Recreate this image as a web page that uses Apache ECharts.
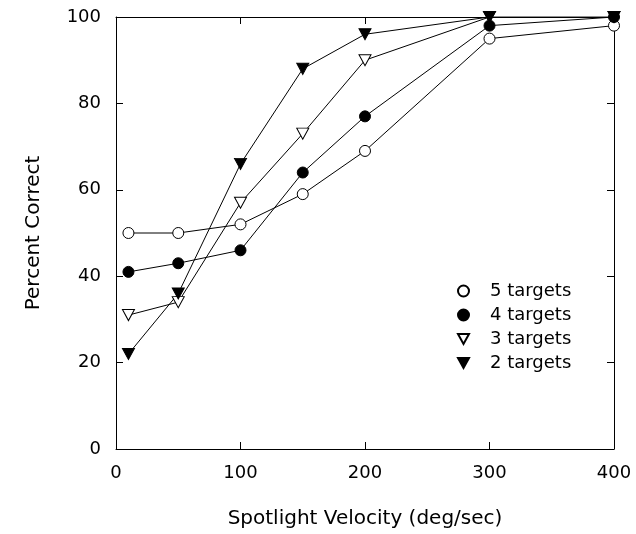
<!DOCTYPE html>
<html>
<head>
<meta charset="utf-8">
<script src="https://cdn.jsdelivr.net/npm/echarts@6/dist/echarts.min.js"></script>
<style>
  html, body { margin: 0; padding: 0; background: #fff; }
  #chart { width: 636px; height: 534px; }
</style>
</head>
<body>
<div id="chart"></div>
<script>
// spotlight velocity (deg/sec)
var velocity = [10, 50, 100, 150, 200, 300, 400];
// percent correct per number of targets
var targets5 = [50, 50, 52, 59, 69, 95, 98];
var targets4 = [41, 43, 46, 64, 77, 98, 100];
var targets3 = [31, 34, 57, 73, 90, 100, 100];
var targets2 = [22, 36, 66, 88, 96, 100, 100];
var seriesNames = ['5 targets', '4 targets', '3 targets', '2 targets'];

var FONT = 'DejaVu Sans';
var downTri = 'path://M0,0 L10,0 L5,9 Z';

function pairs(ys) {
    return velocity.map(function (x, i) { return [x, ys[i]]; });
}

function makeSeries(name, ys, symbol, size, filled) {
    return {
        name: name,
        type: 'line',
        data: pairs(ys),
        symbol: symbol,
        symbolSize: size,
        showAllSymbol: true,
        lineStyle: { color: '#000', width: 1 },
        itemStyle: {
            color: filled ? '#000' : '#fff',
            borderColor: '#000',
            borderWidth: 1
        },
        emphasis: { disabled: true },
        animation: false
    };
}

var chart = echarts.init(document.getElementById('chart'));

var axisBase = {
    axisLine: { show: true, onZero: false, lineStyle: { color: '#000', width: 1 } },
    axisTick: { show: true, inside: true, length: 7, lineStyle: { color: '#000' } },
    splitLine: { show: false }
};

var option = {
    backgroundColor: '#fff',
    grid: { left: 116, right: 22, top: 17, bottom: 84 },
    legend: {
        orient: 'vertical',
        left: 452,
        top: 277,
        itemWidth: 11,
        itemHeight: 11,
        itemGap: 6,
        textStyle: { fontFamily: FONT, fontSize: 18, color: '#000', padding: [0, 0, 0, 16] },
        data: [
            { name: seriesNames[0], icon: 'circle' },
            { name: seriesNames[1], icon: 'circle' },
            { name: seriesNames[2], icon: downTri },
            { name: seriesNames[3], icon: downTri }
        ]
    },
    xAxis: [
        Object.assign({
            type: 'value', position: 'bottom', min: 0, max: 400, interval: 100,
            name: 'Spotlight Velocity (deg/sec)', nameLocation: 'middle', nameGap: 60,
            nameTextStyle: { fontFamily: FONT, fontSize: 20, color: '#000' },
            axisLabel: { fontFamily: FONT, fontSize: 18, color: '#000', margin: 15 }
        }, axisBase),
        Object.assign({
            type: 'value', position: 'top', min: 0, max: 400, interval: 100,
            axisLabel: { show: false }
        }, axisBase)
    ],
    yAxis: [
        Object.assign({
            type: 'value', position: 'left', min: 0, max: 100, interval: 20,
            name: 'Percent Correct', nameLocation: 'middle', nameGap: 72,
            nameTextStyle: { fontFamily: FONT, fontSize: 20, color: '#000' },
            axisLabel: { fontFamily: FONT, fontSize: 18, color: '#000', margin: 15 }
        }, axisBase),
        Object.assign({
            type: 'value', position: 'right', min: 0, max: 100, interval: 20,
            axisLabel: { show: false }
        }, axisBase)
    ],
    series: [
        makeSeries(seriesNames[0], targets5, 'circle', 11, false),
        makeSeries(seriesNames[1], targets4, 'circle', 11, true),
        makeSeries(seriesNames[2], targets3, downTri, [12, 11], false),
        makeSeries(seriesNames[3], targets2, downTri, [12, 11], true)
    ]
};

chart.setOption(option);
</script>
</body>
</html>
